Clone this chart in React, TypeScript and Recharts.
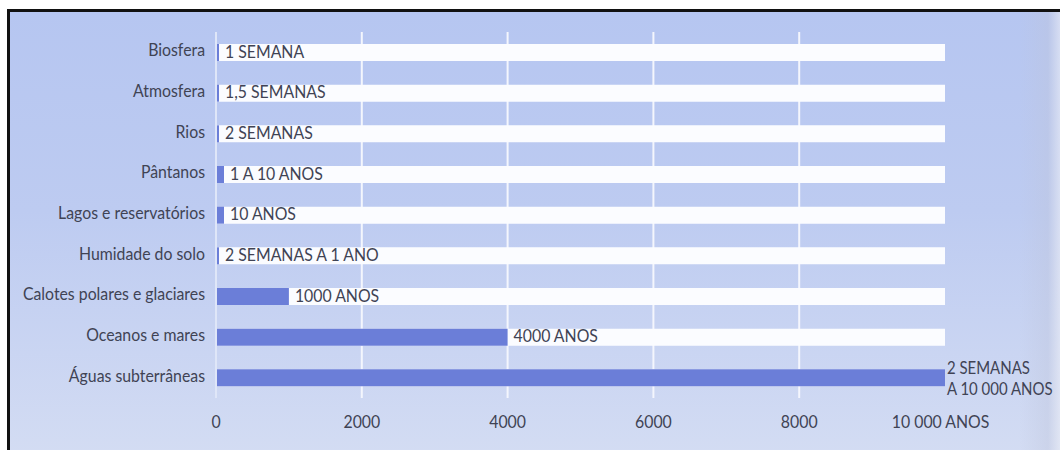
import React from 'react';
import {
  BarChart,
  Bar,
  XAxis,
  YAxis,
  CartesianGrid,
  LabelList,
} from 'recharts';

// Residence time of water in each reservoir (years)
const categories = [
  'Biosfera',
  'Atmosfera',
  'Rios',
  'Pântanos',
  'Lagos e reservatórios',
  'Humidade do solo',
  'Calotes polares e glaciares',
  'Oceanos e mares',
  'Águas subterrâneas',
];

const residenceYears = [0.02, 0.03, 0.04, 10, 10, 1, 1000, 4000, 10000];

const valueLabels = [
  '1 SEMANA',
  '1,5 SEMANAS',
  '2 SEMANAS',
  '1 A 10 ANOS',
  '10 ANOS',
  '2 SEMANAS A 1 ANO',
  '1000 ANOS',
  '4000 ANOS',
  '2 SEMANAS\nA 10 000 ANOS',
];

const xTicks = [0, 2000, 4000, 6000, 8000, 10000];
const xTickLabels = ['0', '2000', '4000', '6000', '8000', '10 000 ANOS'];
const gridValues = [2000, 4000, 6000, 8000];

const data = categories.map((name, i) => ({
  name,
  years: residenceYears[i],
  label: valueLabels[i],
}));

const FONT = "Lato, 'Open Sans', sans-serif";
const TEXT = '#404354';
const BAR = '#6b7ed8';
// narrow the typeface a little to get a condensed look
const SQUEEZE = 0.88;

const CondensedText = ({ x, y, dx = 0, dy = 0, anchor = 'start', size = 18, children }: any) => (
  <text
    transform={`translate(${x},${y}) scale(${SQUEEZE},1)`}
    x={0}
    y={0}
    dx={dx}
    dy={dy}
    textAnchor={anchor}
    fill={TEXT}
    fontFamily={FONT}
    fontSize={size}
  >
    {children}
  </text>
);

const CategoryTick = (props: any) => {
  const { x, y, payload } = props;
  return (
    <CondensedText x={x} y={y} dy={4} anchor="end" size={18}>
      {payload.value}
    </CondensedText>
  );
};

const YearTick = (props: any) => {
  const { x, y, payload } = props;
  const idx = xTicks.indexOf(payload.value);
  const last = idx === xTicks.length - 1;
  return (
    <CondensedText x={x} y={y} dx={last ? -5 : 0} dy={30} anchor="middle" size={18}>
      {idx >= 0 ? xTickLabels[idx] : payload.value}
    </CondensedText>
  );
};

const ValueLabel = (props: any) => {
  const { x, y, width, height, value } = props;
  const lines = String(value).split('\n');
  const tx = Number(x) + Number(width) + 6;
  const cy = Number(y) + Number(height) / 2;
  if (lines.length === 1) {
    return (
      <CondensedText x={tx} y={cy} dy={5} size={18}>
        {lines[0]}
      </CondensedText>
    );
  }
  return (
    <g>
      <CondensedText x={tx - 4} y={cy} dy={-4} size={17}>
        {lines[0]}
      </CondensedText>
      <CondensedText x={tx - 4} y={cy} dy={17} size={17}>
        {lines[1]}
      </CondensedText>
    </g>
  );
};

export default function App() {
  return (
    <div style={{ position: 'absolute', left: 0, top: 0, width: 1060, height: 450, background: '#ffffff', overflow: 'hidden' }}>
      <div
        style={{
          position: 'absolute',
          left: 7,
          top: 9,
          width: 1053,
          height: 441,
          borderTop: '3px solid #111',
          borderLeft: '3px solid #111',
          background: 'linear-gradient(180deg, #b6c6f1 0%, #bdcbf1 45%, #d3dcf3 100%)',
        }}
      >
        <div
          style={{
            position: 'absolute',
            inset: 0,
            background:
              'linear-gradient(90deg, rgba(0,0,0,0) 0px, rgba(0,0,0,0) 1010px, rgba(190,196,218,0.35) 1038px, rgba(238,240,247,0.7) 1053px)',
          }}
        />
      </div>
      <div style={{ position: 'absolute', left: 0, top: 0 }}>
        <BarChart
          width={1060}
          height={450}
          data={data}
          layout="vertical"
          margin={{ top: 32, right: 115, bottom: 22, left: 16 }}
        >
          <CartesianGrid
            horizontal={false}
            vertical={true}
            verticalValues={gridValues}
            stroke="#f4f6fd"
            strokeWidth={2}
          />
          <XAxis
            type="number"
            domain={[0, 10000]}
            ticks={xTicks}
            axisLine={false}
            tickLine={false}
            tickSize={0}
            tickMargin={0}
            height={30}
            tick={<YearTick />}
            interval={0}
          />
          <YAxis
            type="category"
            dataKey="name"
            width={200}
            axisLine={{ stroke: '#dfe6f8', strokeWidth: 2 }}
            tickLine={false}
            tickSize={0}
            tickMargin={11}
            tick={<CategoryTick />}
            interval={0}
          />
          <Bar
            dataKey="years"
            fill={BAR}
            barSize={17}
            background={{ fill: '#fbfcff' }}
            minPointSize={(v: number) => (v >= 5 ? 8 : 3)}
            isAnimationActive={false}
          >
            <LabelList dataKey="label" content={<ValueLabel />} />
          </Bar>
        </BarChart>
      </div>
    </div>
  );
}
